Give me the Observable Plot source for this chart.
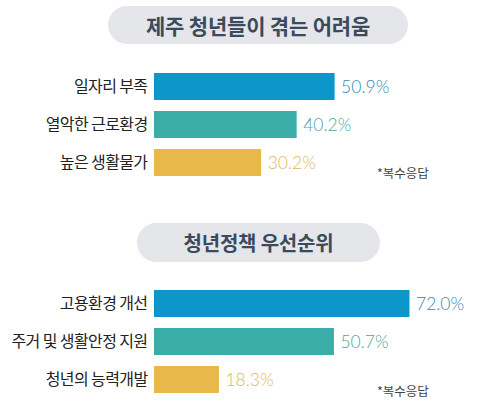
<!DOCTYPE html>
<html>
<head>
<meta charset="utf-8">
<script src="https://cdn.jsdelivr.net/npm/d3@7"></script>
<script src="https://cdn.jsdelivr.net/npm/@observablehq/plot@0.6"></script>
<style>
  body { margin: 0; background: #fff; }
  #wrap { position: relative; width: 484px; height: 414px; overflow: hidden; font-family: "Noto Sans CJK KR", sans-serif; }
  .pill { position: absolute; background: #e4e6ea; border-radius: 20px; color: #3b4a5c; font-weight: bold;
          display: flex; align-items: center; justify-content: center; letter-spacing: -0.2px; }
  .note { position: absolute; font-size: 12.5px; color: #444; }
  .chart { position: absolute; left: 0; }
</style>
</head>
<body>
<div id="wrap"></div>
<script>
// 제주 청년들이 겪는 어려움
const issueLabels = ["일자리 부족", "열악한 근로환경", "높은 생활물가"];
const issueValues = [50.9, 40.2, 30.2];
// 청년정책 우선순위
const policyLabels = ["고용환경 개선", "주거 및 생활안정 지원", "청년의 능력개발"];
const policyValues = [72.0, 50.7, 18.3];

const titles = ["제주 청년들이 겪는 어려움", "청년정책 우선순위"];
const note = "*복수응답";
const barColors = ["#0c96c9", "#3aada8", "#e8b84a"];
const labelColors = ["#2a8cb2", "#4fa3a2", "#e0b85a"];

const wrap = d3.select("#wrap");

function panel(labels, values, title, pill, top) {
  const data = labels.map((name, i) => ({name, value: values[i], rank: i}));

  wrap.append("div").attr("class", "pill")
    .style("left", pill.x + "px").style("top", pill.y + "px")
    .style("width", pill.w + "px").style("height", pill.h + "px")
    .style("font-size", pill.fs + "px")
    .text(title);

  const chart = Plot.plot({
    width: 484,
    height: 140,
    marginLeft: 154,
    marginRight: 0,
    marginTop: 22,
    marginBottom: 12,
    style: {fontFamily: "Noto Sans CJK KR, sans-serif", color: "#222", background: "transparent"},
    x: {domain: [0, 93], axis: null},
    y: {domain: labels, paddingInner: 0.282, paddingOuter: 0, label: null},
    marks: [
      Plot.barX(data, {x: "value", y: "name", fill: d => barColors[d.rank]}),
      Plot.text(data, {x: "value", y: "name", text: d => d.value.toFixed(1) + "%", dx: 6,
        textAnchor: "start", fill: d => labelColors[d.rank], fontSize: 17.5, fontFamily: "Lato", fontWeight: 300}),
      Plot.axisY({tickSize: 0, tickPadding: 7, fontSize: 16, label: null, fill: "#222"})
    ]
  });
  d3.select(chart).selectAll("[aria-label='y-axis tick label'] text").style("letter-spacing", "-0.6px");
  wrap.append("div").attr("class", "chart").style("top", top + "px").node().append(chart);
}

panel(issueLabels, issueValues, titles[0], {x: 108, y: 6, w: 300, h: 38, fs: 21}, 50);
panel(policyLabels, policyValues, titles[1], {x: 137, y: 223, w: 243, h: 39, fs: 20}, 267);

wrap.append("div").attr("class", "note").style("left", "377px").style("top", "163px").text(note);
wrap.append("div").attr("class", "note").style("left", "377px").style("top", "381px").text(note);
</script>
</body>
</html>
